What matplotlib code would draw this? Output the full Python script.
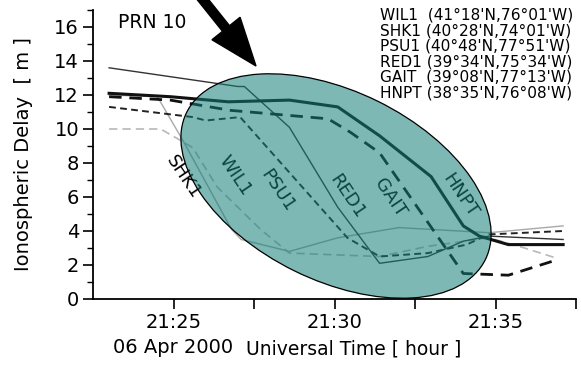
import matplotlib
matplotlib.use("Agg")
import matplotlib.pyplot as plt
from matplotlib.patches import Ellipse, FancyArrow
from matplotlib.ticker import MultipleLocator, FixedLocator
import matplotlib.transforms as mtransforms

plt.rcParams['font.family'] = ['DejaVu Sans']

# time in minutes after 21:00 UT, delay in metres
wil1_t = [23.0, 24.6, 25.2, 25.6, 26.35, 27.7, 28.6, 31.4, 32.9, 34.8, 35.9, 36.9]
wil1_y = [10.0, 10.0, 9.35, 8.9, 6.6, 4.1, 2.7, 2.5, 3.1, 3.6, 3.0, 2.4]

shk1_t = [23.0, 24.5, 25.3, 26.8, 27.1, 28.6, 30.1, 32.0, 34.8, 37.1]
shk1_y = [12.0, 11.9, 9.3, 4.1, 3.5, 2.8, 3.6, 4.2, 3.9, 4.3]

psu1_t = [23.0, 25.6, 26.0, 27.07, 30.4, 31.4, 32.9, 34.1, 34.8, 37.1]
psu1_y = [11.3, 10.7, 10.5, 10.7, 3.6, 2.5, 2.7, 3.2, 3.8, 4.0]

red1_t = [23.0, 27.0, 27.2, 28.6, 30.1, 31.4, 32.9, 34.0, 34.8, 37.1]
red1_y = [13.6, 12.5, 12.5, 10.1, 5.4, 2.1, 2.5, 3.4, 3.7, 3.5]

gait_t = [23.0, 24.9, 26.75, 29.8, 30.5, 31.4, 34.0, 35.4, 36.9]
gait_y = [11.9, 11.7, 11.1, 10.6, 9.8, 8.6, 1.5, 1.4, 2.3]

hnpt_t = [23.0, 24.9, 26.7, 28.6, 30.1, 31.4, 33.0, 34.0, 34.5, 35.4, 37.1]
hnpt_y = [12.1, 11.9, 11.6, 11.7, 11.3, 9.6, 7.2, 4.3, 3.7, 3.2, 3.2]

station_names = ["WIL1", "SHK1", "PSU1", "RED1", "GAIT", "HNPT"]
station_coords = ["(41°18'N,76°01'W)", "(40°28'N,74°01'W)", "(40°48'N,77°51'W)",
                  "(39°34'N,75°34'W)", "(39°08'N,77°13'W)", "(38°35'N,76°08'W)"]

xtick_vals = [25, 30, 35]
xtick_labels = ["21:25\n06 Apr 2000", "21:30", "21:35"]

W, H = 581, 365
fig = plt.figure(figsize=(W / 100, H / 100), dpi=100)
ax = fig.add_axes([93 / W, (H - 299) / H, (576 - 93) / W, (299 - 10) / H])

ax.plot(wil1_t, wil1_y, color='#b8b8b8', lw=1.2, dashes=(5, 3))
ax.plot(shk1_t, shk1_y, color='#a8a8a8', lw=1.0)
ax.plot(psu1_t, psu1_y, color='#222222', lw=1.4, dashes=(3.5, 2.2))
ax.plot(red1_t, red1_y, color='#333333', lw=1.0)
ax.plot(gait_t, gait_y, color='#111111', lw=2.0, dashes=(4.5, 2.8))
ax.plot(hnpt_t, hnpt_y, color='#111111', lw=2.2)

ax.set_xlim(22.5, 37.5)
ax.set_ylim(0, 17)
ax.spines['top'].set_visible(False)
ax.spines['right'].set_visible(False)
for s in ('left', 'bottom'):
    ax.spines[s].set_linewidth(1.3)
ax.yaxis.set_major_locator(MultipleLocator(2))
ax.yaxis.set_minor_locator(MultipleLocator(1))
ax.xaxis.set_major_locator(FixedLocator(xtick_vals))
ax.xaxis.set_minor_locator(FixedLocator([27.5, 32.5, 37.5]))
ax.set_xticks(xtick_vals)
ax.set_xticklabels(xtick_labels, linespacing=1.4)
ax.tick_params(axis='y', which='major', length=7, width=1.2, labelsize=14, pad=3)
ax.tick_params(axis='y', which='minor', length=4, width=1.0)
ax.tick_params(axis='x', which='both', length=7, width=1.2, labelsize=14, pad=3)
ax.set_ylabel('Ionospheric Delay  [ m ]', fontsize=14)
ax.yaxis.label.set_va('center')
ax.yaxis.set_label_coords(-69 / 483, 0.5)
ax.set_xlabel('Universal Time [ hour ]', fontsize=13.5)
ax.xaxis.label.set_va('center')
ax.xaxis.set_label_coords((354 - 93) / 483, -50 / 289)

# pixel transform (origin top-left)
pix = mtransforms.Affine2D().scale(1 / W, -1 / H).translate(0, 1) + fig.transFigure

fig.text(118 / W, 1 - 28 / H, 'PRN 10', fontsize=13.5, va='baseline', ha='left')

for i, (n, c) in enumerate(zip(station_names, station_coords)):
    gap = '  ' if n in ('WIL1', 'GAIT') else ' '
    fig.text(380 / W, 1 - (15 + 15.6 * i) / H, n + gap + c, fontsize=11.1,
             va='center', ha='left')

labels = [("SHK1", 183, 177), ("WIL1", 235, 176), ("PSU1", 278, 191),
          ("RED1", 347, 197), ("GAIT", 390, 198), ("HNPT", 460, 196)]
for txt, px, py in labels:
    fig.text(px / W, 1 - py / H, txt, fontsize=13, rotation=-56,
             ha='center', va='center', rotation_mode='anchor')

ell = Ellipse((336, 186), 333, 189, angle=26.2, transform=pix,
              facecolor='#137E78', alpha=0.55, edgecolor='none', zorder=10)
fig.add_artist(ell)
ell2 = Ellipse((336, 186), 333, 189, angle=26.2, transform=pix,
               facecolor='none', edgecolor='black', lw=0.9, zorder=11)
fig.add_artist(ell2)

arr = FancyArrow(192, -14, 64, 80, width=9, head_width=36,
                 head_length=48, length_includes_head=True, transform=pix,
                 color='black', zorder=12)
fig.add_artist(arr)

fig.savefig('out.png', dpi=100)
